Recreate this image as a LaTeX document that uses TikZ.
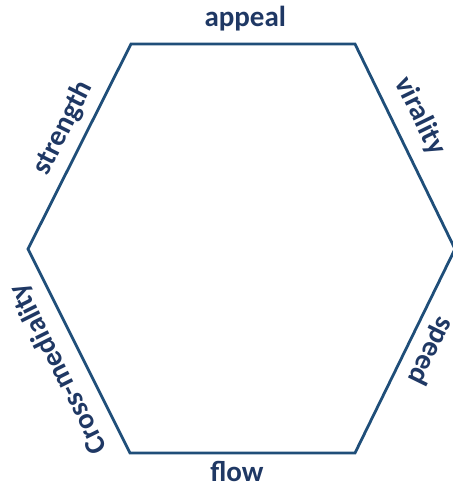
\documentclass[tikz,border=0pt]{standalone}
\usepackage{fontspec}
\setmainfont{Carlito}
\definecolor{hexline}{RGB}{31,78,121}
\definecolor{hextext}{RGB}{31,56,100}
\begin{document}
\begin{tikzpicture}[x=1pt, y=1pt,
    side/.style={hextext, font=\fontsize{29}{34}\selectfont\bfseries, inner sep=0pt, anchor=base}]
    \useasboundingbox (0,0) rectangle (453,488);
    % corners of the hexagon
    \coordinate (tl) at (131,444);
    \coordinate (tr) at (355,444);
    \coordinate (r) at (455,239);
    \coordinate (br) at (355,35);
    \coordinate (bl) at (130,35);
    \coordinate (l) at (28,239);
    \draw[hexline, line width=2.8pt] (tl) -- (tr) -- (r) -- (br) -- (bl) -- (l) -- cycle;
    % labels along the sides
    \path (tl) -- node[side, pos=0.51, yshift=17pt] (appeal) {appeal} (tr);
    \path (tr) -- node[side, sloped, pos=0.41, yshift=19pt] (virality) {virality} (r);
    \path (r) -- node[side, sloped, allow upside down, pos=0.45, yshift=15pt] (speed) {speed} (br);
    \path (bl) -- node[side, pos=0.475, anchor=north, yshift=-8pt] (flow) {flow} (br);
    \path (bl) -- node[side, sloped, allow upside down, pos=0.47, yshift=18pt] (crossmed) {Cross-mediality} (l);
    \path (l) -- node[side, sloped, pos=0.54, yshift=15pt] (strength) {strength} (tl);
\end{tikzpicture}
\end{document}
